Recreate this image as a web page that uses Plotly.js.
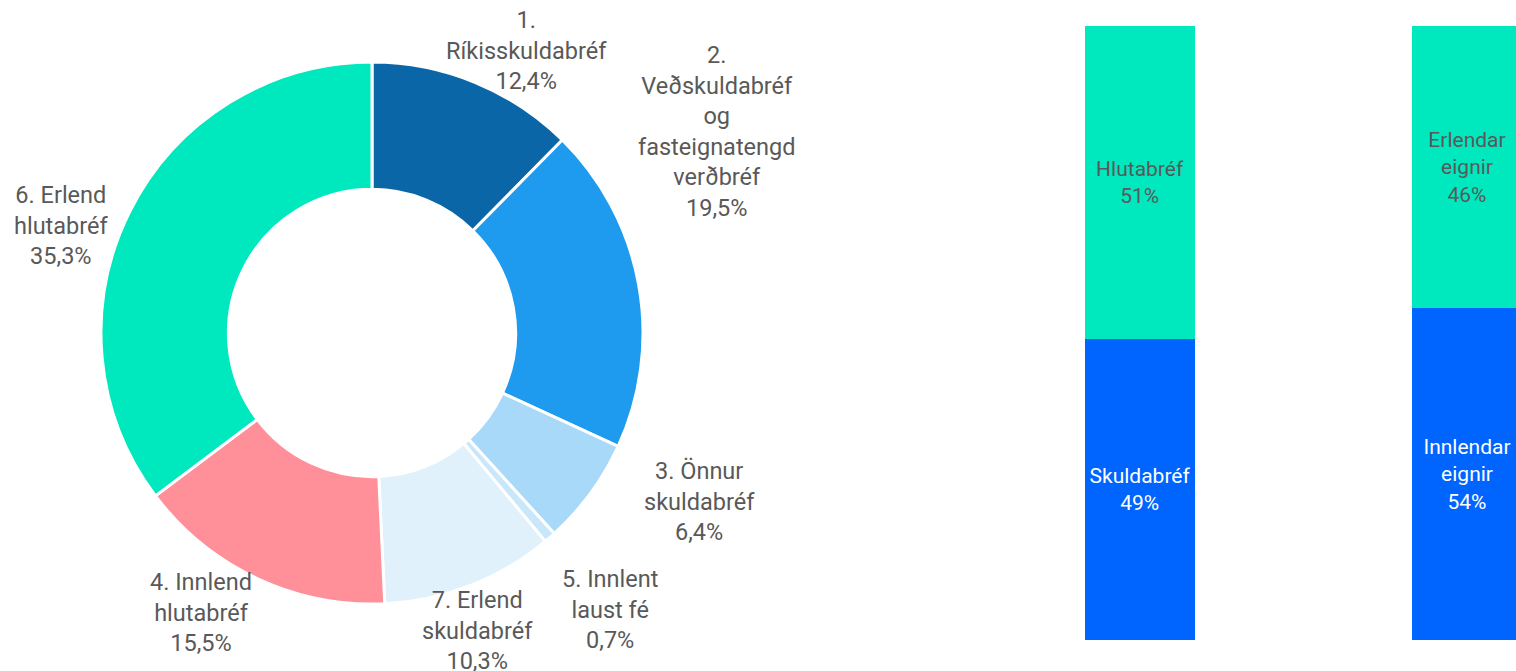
<!DOCTYPE html>
<html>
<head>
<meta charset="utf-8">
<script src="https://cdn.plot.ly/plotly-3.0.1.min.js"></script>
<style>html,body{margin:0;padding:0;background:#fff}#chart{width:1516px;height:671px}</style>
</head>
<body>
<div id="chart"></div>
<script>
// Pie data (clockwise from 12 o'clock)
const pieLabels = ["1.<br>Ríkisskuldabréf", "2.<br>Veðskuldabréf<br>og<br>fasteignatengd<br>verðbréf", "3. Önnur<br>skuldabréf", "5. Innlent<br>laust fé", "7. Erlend<br>skuldabréf", "4. Innlend<br>hlutabréf", "6. Erlend<br>hlutabréf"];
const pieValues = [12.4, 19.5, 6.4, 0.7, 10.3, 15.5, 35.3];
const pieValueText = ["12,4%", "19,5%", "6,4%", "0,7%", "10,3%", "15,5%", "35,3%"];
const pieColors = ["#0B66A8", "#1E9BEF", "#A9D9F8", "#C9E7FA", "#E1F1FC", "#FF8F99", "#00E8BE"];

// Stacked bars
const barCats = [0, 1];
const bottomValues = [49, 54];
const bottomText = ["Skuldabréf<br>49%", "Innlendar<br>eignir<br>54%"];
const topValues = [51, 46];
const topText = ["Hlutabréf<br>51%", "Erlendar<br>eignir<br>46%"];

const fontFam = "Roboto, 'Noto Sans', sans-serif";
const W = 1516, H = 671;

// layout: pixel centres of the pie labels (text placement only)
const labelPos = [[526, 50], [716, 131], [699, 501], [610, 609], [477, 630], [201, 612], [61, 225]];

const annotations = pieLabels.map((lab, i) => ({
  text: lab + "<br>" + pieValueText[i],
  xref: "paper", yref: "paper",
  x: labelPos[i][0] / W, y: 1 - labelPos[i][1] / H,
  xanchor: "center", yanchor: "middle", align: "center",
  showarrow: false,
  font: {family: fontFam, size: 23.5, color: "#595959"}
}));

const traces = [
  {
    type: "pie",
    labels: pieLabels,
    values: pieValues,
    sort: false,
    direction: "clockwise",
    rotation: 0,
    hole: 0.53,
    domain: {x: [101 / W, 643 / W], y: [1 - 604 / H, 1 - 62 / H]},
    marker: {colors: pieColors, line: {color: "#ffffff", width: 3}},
    textinfo: "none",
    showlegend: false,
    hoverinfo: "none"
  },
  {
    type: "bar",
    x: barCats,
    y: bottomValues,
    text: bottomText,
    textposition: "inside",
    insidetextanchor: "middle",
    textangle: 0,
    texttemplate: "%{text}",
    insidetextfont: {family: fontFam, size: 21, color: "#ffffff"},
    marker: {color: "#0064FF"},
    width: 0.3364,
    showlegend: false,
    hoverinfo: "none"
  },
  {
    type: "bar",
    x: barCats,
    y: topValues,
    text: topText,
    textposition: "inside",
    insidetextanchor: "middle",
    textangle: 0,
    texttemplate: "%{text}",
    insidetextfont: {family: fontFam, size: 21, color: "#595959"},
    marker: {color: "#00E8BE"},
    width: 0.3364,
    showlegend: false,
    hoverinfo: "none"
  }
];

const layout = {
  width: W,
  height: H,
  margin: {l: 0, r: 0, t: 0, b: 0},
  paper_bgcolor: "#ffffff",
  plot_bgcolor: "#ffffff",
  barmode: "stack",
  xaxis: {domain: [0.6, 1], range: [-0.7046, 1.1498], visible: false, fixedrange: true},
  yaxis: {domain: [1 - 640 / H, 1 - 26 / H], range: [0, 100], visible: false, fixedrange: true},
  font: {family: fontFam},
  annotations: annotations
};

Plotly.newPlot("chart", traces, layout, {displayModeBar: false, staticPlot: true});
</script>
</body>
</html>
